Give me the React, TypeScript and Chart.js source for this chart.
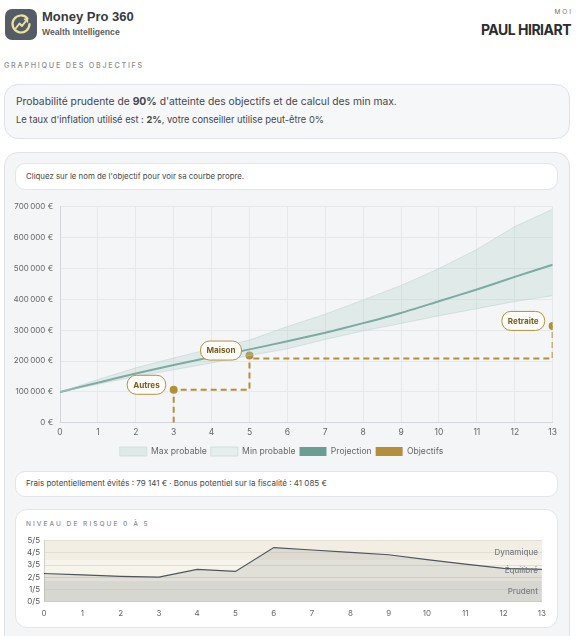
import React, { useEffect, useRef } from "react";
import { Chart, registerables } from "chart.js";

Chart.register(...registerables);

// ---------- data ----------
const years = [0, 1, 2, 3, 4, 5, 6, 7, 8, 9, 10, 11, 12, 13];
const maxProbable = [100000, 140000, 178000, 210000, 240000, 268000, 312000, 352000, 398000, 445000, 500000, 562000, 636000, 692000];
const minProbable = [100000, 125000, 150000, 172000, 194000, 218000, 240000, 270000, 298000, 322000, 347000, 370000, 393000, 412000];
const projection = [100000, 130000, 160000, 187000, 213000, 238000, 264000, 292000, 323000, 356000, 394000, 432000, 473000, 512000];

const objPathX = [3, 3, 5, 5, 5, 13, 13];
const objPathY = [0, 107000, 107000, 218000, 208000, 208000, 314000];
const objDotIndex = [1, 3, 6];
const objNames = ["Autres", "Maison", "Retraite"];

const legendNames = ["Max probable", "Min probable", "Projection", "Objectifs"];

const riskLevels = [2.3, 2.19, 2.07, 2.0, 2.64, 2.47, 4.44, 4.24, 4.04, 3.85, 3.45, 3.07, 2.72, 2.64];
const riskZoneNames = ["Prudent", "Équilibré", "Dynamique"];
const riskZoneLabelAt = [0.85, 2.55, 4.05];
const riskZoneBounds = [0, 1.7, 3.4, 5];

const GOLD = "#b38f3b";
const TEAL = "#6a9e93";

const fmtEuro = (v: number) =>
  String(v).replace(/\B(?=(\d{3})+(?!\d))/g, "\u202f") + " €";

Chart.defaults.font.family = "Inter, 'Noto Sans', sans-serif";

const objectiveLabelsPlugin = {
  id: "objLabels",
  afterDatasetsDraw(chart: any) {
    const ctx = chart.ctx;
    const xs = chart.scales.x;
    const ys = chart.scales.y;
    ctx.save();
    ctx.font = "bold 8.1px Inter";
    objDotIndex.forEach((idx, i) => {
      const px = xs.getPixelForValue(objPathX[idx]);
      const py = ys.getPixelForValue(objPathY[idx]);
      const text = objNames[i];
      const tw = ctx.measureText(text).width;
      const w = tw + 12;
      const h = 19;
      const right = px - 8;
      const cy = py - 5;
      const left = right - w;
      const top = cy - h / 2;
      ctx.beginPath();
      ctx.roundRect(left, top, w, h, 9);
      ctx.fillStyle = "#fffdf9";
      ctx.fill();
      ctx.lineWidth = 1;
      ctx.strokeStyle = GOLD;
      ctx.stroke();
      ctx.fillStyle = "#7a5b1e";
      ctx.textAlign = "center";
      ctx.textBaseline = "middle";
      ctx.fillText(text, left + w / 2, cy + 0.5);
    });
    ctx.restore();
  },
};

const riskBandsPlugin = {
  id: "riskBands",
  beforeDraw(chart: any) {
    const ctx = chart.ctx;
    const a = chart.chartArea;
    const ys = chart.scales.y;
    const colors = ["#ebeae5", "#f7f4ec", "#f2eee4"];
    ctx.save();
    for (let i = 0; i < 3; i++) {
      const y1 = ys.getPixelForValue(riskZoneBounds[i + 1]);
      const y0 = ys.getPixelForValue(riskZoneBounds[i]);
      ctx.fillStyle = colors[i];
      ctx.fillRect(a.left, y1, a.right - a.left, y0 - y1);
    }
    ctx.restore();
  },
  afterDatasetsDraw(chart: any) {
    const ctx = chart.ctx;
    const a = chart.chartArea;
    const ys = chart.scales.y;
    ctx.save();
    ctx.font = "500 8px Inter";
    ctx.fillStyle = "#7a7d82";
    ctx.textAlign = "right";
    ctx.textBaseline = "middle";
    riskZoneNames.forEach((n, i) => {
      ctx.fillText(n, a.right - 4, ys.getPixelForValue(riskZoneLabelAt[i]));
    });
    ctx.restore();
  },
};

function GoalsChart() {
  const ref = useRef<HTMLCanvasElement>(null);
  useEffect(() => {
    if (!ref.current) return;
    const legendFill = ["rgba(206,224,221,0.55)", "rgba(214,229,227,0.5)", TEAL, GOLD];
    const legendStroke = ["#d3dedd", "#d3dedd", TEAL, GOLD];
    const chart = new Chart(ref.current, {
      type: "line",
      data: {
        datasets: [
          {
            label: legendNames[0],
            data: years.map((x, i) => ({ x, y: maxProbable[i] })),
            borderColor: "rgba(190,210,207,0.5)",
            borderWidth: 1,
            backgroundColor: "rgba(170,203,197,0.28)",
            fill: "+1",
            pointRadius: 0,
            tension: 0,
          },
          {
            label: legendNames[1],
            data: years.map((x, i) => ({ x, y: minProbable[i] })),
            borderColor: "rgba(190,210,207,0.5)",
            borderWidth: 1,
            backgroundColor: "rgba(170,203,197,0.28)",
            fill: false,
            pointRadius: 0,
            tension: 0,
          },
          {
            label: legendNames[2],
            data: years.map((x, i) => ({ x, y: projection[i] })),
            borderColor: TEAL,
            borderWidth: 2,
            backgroundColor: TEAL,
            fill: false,
            pointRadius: 0,
            tension: 0.2,
          },
          {
            label: legendNames[3],
            data: objPathX.map((x, i) => ({ x, y: objPathY[i] })),
            borderColor: GOLD,
            borderWidth: 2,
            borderDash: [6, 4],
            backgroundColor: GOLD,
            fill: false,
            pointRadius: objPathX.map((_, i) => (objDotIndex.includes(i) ? 4 : 0)),
            pointBackgroundColor: GOLD,
            pointBorderWidth: 0,
            tension: 0,
          },
        ],
      },
      options: {
        animation: false,
        responsive: false,
        maintainAspectRatio: false,
        layout: { padding: { top: 6, right: 7, left: 0, bottom: 0 } },
        plugins: {
          tooltip: { enabled: false },
          legend: {
            position: "bottom",
            labels: {
              boxWidth: 27,
              boxHeight: 9,
              padding: 4,
              color: "#666",
              font: { size: 8.6 },
              generateLabels: () =>
                legendNames.map((t, i) => ({
                  text: t,
                  fillStyle: legendFill[i],
                  strokeStyle: legendStroke[i],
                  lineWidth: i < 2 ? 1 : 0,
                  lineDash: [],
                  hidden: false,
                  datasetIndex: i,
                  fontColor: "#666",
                })),
            },
          },
        },
        scales: {
          x: {
            type: "linear",
            min: 0,
            max: 13,
            ticks: { stepSize: 1, color: "#666", font: { size: 8.5 }, padding: 5 },
            grid: { color: "#e6e8eb", drawTicks: false },
            border: { color: "#d3d6da" },
          },
          y: {
            min: 0,
            max: 700000,
            ticks: { stepSize: 100000, callback: (v: any) => fmtEuro(Number(v)), color: "#666", font: { size: 8 }, padding: 7 },
            grid: { color: "#e6e8eb", drawTicks: false },
            border: { color: "#d3d6da" },
            afterFit: (s: any) => {
              s.width = 52;
            },
          },
        },
      },
      plugins: [objectiveLabelsPlugin],
    } as any);
    return () => chart.destroy();
  }, []);
  return <canvas ref={ref} width={554} height={271} style={{ position: "absolute", left: 8, top: 195 }} />;
}

function RiskChart() {
  const ref = useRef<HTMLCanvasElement>(null);
  useEffect(() => {
    if (!ref.current) return;
    const chart = new Chart(ref.current, {
      type: "line",
      data: {
        datasets: [
          {
            label: "Risque",
            data: years.map((x, i) => ({ x, y: riskLevels[i] })),
            borderColor: "#50555c",
            borderWidth: 1.2,
            backgroundColor: "rgba(120,122,118,0.17)",
            fill: "origin",
            pointRadius: 0,
            tension: 0,
          },
        ],
      },
      options: {
        animation: false,
        responsive: false,
        maintainAspectRatio: false,
        layout: { padding: { top: 1, right: 6, left: 0, bottom: 0 } },
        plugins: { legend: { display: false }, tooltip: { enabled: false } },
        scales: {
          x: {
            type: "linear",
            min: 0,
            max: 13,
            ticks: { stepSize: 1, color: "#666", font: { size: 8 }, padding: 7 },
            grid: { display: false, drawTicks: false },
            border: { color: "#cfcfcc" },
          },
          y: {
            min: 0,
            max: 5,
            ticks: { stepSize: 1, autoSkip: false, callback: (v: any) => `${v}/5`, color: "#555", font: { size: 8 }, padding: 4 },
            grid: { color: "#e2ded4", drawTicks: false },
            border: { color: "#cfcfcc" },
            afterFit: (s: any) => {
              s.width = 24;
            },
          },
        },
      },
      plugins: [riskBandsPlugin],
    } as any);
    return () => chart.destroy();
  }, []);
  return <canvas ref={ref} width={533} height={93} style={{ position: "absolute", left: 20, top: 532 }} />;
}

const abs = (o: React.CSSProperties): React.CSSProperties => ({ position: "absolute", ...o });
const INTER = "Inter, 'Noto Sans', sans-serif";

export default function App() {
  return (
    <div style={{ position: "relative", width: 577, height: 636, overflow: "hidden", background: "#fff", fontFamily: INTER }}>
      <style>{"body{margin:0}"}</style>
      {/* logo */}
      <svg style={abs({ left: 5, top: 9 })} width={32} height={31} viewBox="0 0 32 31">
        <rect x={0} y={0} width={32} height={31} rx={7} fill="#555c66" />
        <path d="M22.5 9.5 A8.5 8.5 0 1 0 24.5 15" fill="none" stroke="#ebe19c" strokeWidth={2.2} strokeLinecap="round" />
        <polyline points="11,19 14.5,14.5 17,17 22,10.5" fill="none" stroke="#ebe19c" strokeWidth={2} strokeLinecap="round" strokeLinejoin="round" />
        <polyline points="19.5,10.3 22.3,10.2 22.4,13" fill="none" stroke="#ebe19c" strokeWidth={1.6} strokeLinecap="round" strokeLinejoin="round" />
      </svg>
      <div style={abs({ left: 42, top: 8, fontFamily: "'Liberation Sans', Arial, sans-serif", fontWeight: 700, fontSize: 13, color: "#363a40", lineHeight: "18px" })}>
        Money Pro 360
      </div>
      <div style={abs({ left: 42, top: 26, fontFamily: "'Liberation Sans', Arial, sans-serif", fontWeight: 700, fontSize: 8.6, color: "#5a5e64", lineHeight: "12px" })}>
        Wealth Intelligence
      </div>
      <div style={abs({ right: 4, top: 7, fontSize: 6.5, letterSpacing: 2, color: "#777", lineHeight: "10px" })}>MOI</div>
      <div style={abs({ right: 6, top: 21, fontSize: 14, fontWeight: 700, letterSpacing: -0.5, color: "#2a2d31", lineHeight: "18px" })}>
        PAUL HIRIART
      </div>
      <div style={abs({ left: 4, top: 61, fontSize: 7.2, letterSpacing: 1.75, color: "#8a8d92", lineHeight: "10px", fontWeight: 500 })}>
        GRAPHIQUE DES OBJECTIFS
      </div>

      {/* card 1 */}
      <div style={abs({ left: 4, top: 84, width: 564, height: 53, border: "1px solid #dfe2e6", borderRadius: 14, background: "#f6f7f9" })} />
      <div style={abs({ left: 16, top: 94, fontSize: 10.3, color: "#45484d", lineHeight: "14px" })}>
        Probabilité prudente de <b style={{ fontWeight: 700 }}>90%</b> d'atteinte des objectifs et de calcul des min max.
      </div>
      <div style={abs({ left: 16, top: 114, fontSize: 9.3, color: "#45484d", lineHeight: "12px" })}>
        Le taux d'inflation utilisé est : <b style={{ fontWeight: 700 }}>2%</b>, votre conseiller utilise peut-être 0%
      </div>

      {/* card 2 */}
      <div style={abs({ left: 4, top: 152, width: 564, height: 520, border: "1px solid #dfe2e6", borderRadius: 14, background: "#f4f5f7" })} />
      <div style={abs({ left: 15, top: 163, width: 541, height: 25, border: "1px solid #e3e5e8", borderRadius: 10, background: "#fff" })} />
      <div style={abs({ left: 26, top: 171, fontSize: 7.85, color: "#45484d", lineHeight: "11px" })}>
        Cliquez sur le nom de l'objectif pour voir sa courbe propre.
      </div>

      <GoalsChart />

      <div style={abs({ left: 15, top: 471, width: 541, height: 24, border: "1px solid #e3e5e8", borderRadius: 10, background: "#fff" })} />
      <div style={abs({ left: 26, top: 478, fontSize: 8, color: "#45484d", lineHeight: "11px" })}>
        Frais potentiellement évités : 79 141 € · Bonus potentiel sur la fiscalité : 41 085 €
      </div>

      <div style={abs({ left: 15, top: 509, width: 541, height: 117, border: "1px solid #e3e5e8", borderRadius: 12, background: "#fff" })} />
      <div style={abs({ left: 26, top: 519, fontSize: 6.6, letterSpacing: 2, color: "#8a8d92", lineHeight: "10px", fontWeight: 500 })}>
        NIVEAU DE RISQUE 0 À 5
      </div>
      <RiskChart />
    </div>
  );
}
